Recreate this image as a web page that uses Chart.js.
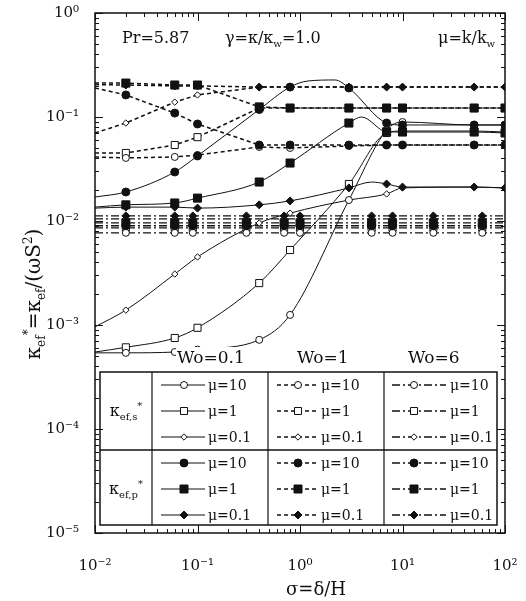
<!DOCTYPE html>
<html>
<head>
  <title>Effective diffusivity vs sigma</title>
  <script src="https://cdn.jsdelivr.net/npm/chart.js"></script>
  <style>
    body { margin: 0; background: #fff; }
    #wrap { width: 526px; height: 601px; }
  </style>
</head>
<body>
  <div id="wrap"><canvas id="chart" width="526" height="601"></canvas></div>
  <script>
    // sigma = delta/H sample positions
    const sigmaWo01 = [0.01, 0.02, 0.06, 0.1, 0.4, 0.8, 3, 7, 10, 50, 100];
    const sigmaWo01P10 = [0.01, 0.02, 0.06, 0.1, 0.4, 0.8, 1.2, 2.2, 3, 7, 10, 50, 100];
    const sigmaWo01P1 = [0.01, 0.02, 0.06, 0.1, 0.4, 0.8, 3, 4, 7, 10, 50, 100];
    const sigmaWo01P01 = [0.01, 0.02, 0.06, 0.1, 0.4, 0.8, 3, 5, 7, 10, 50, 100];
    const sigmaWo1 = [0.01, 0.02, 0.06, 0.1, 0.4, 0.8, 3, 7, 10, 50, 100];
    const sigmaWo6 = [0.01, 0.02, 0.06, 0.09, 0.3, 0.7, 1, 5, 8, 20, 60, 100];

    // Wo = 0.1 (solid)
    const kSWo01Mu10 = [0.00054, 0.00054, 0.00055, 0.00058, 0.00072, 0.00125, 0.0159, 0.075, 0.0895, 0.0838, 0.0838];
    const kSWo01Mu1 = [0.00055, 0.00061, 0.00075, 0.00094, 0.00253, 0.00526, 0.0227, 0.0702, 0.0733, 0.0733, 0.0717];
    const kSWo01Mu01 = [0.00096, 0.00139, 0.00309, 0.00451, 0.00957, 0.0119, 0.0159, 0.0182, 0.0208, 0.0212, 0.0208];
    const kPWo01Mu10 = [0.017, 0.019, 0.0296, 0.0422, 0.118, 0.194, 0.222, 0.227, 0.19, 0.0875, 0.0838, 0.0838, 0.0838];
    const kPWo01Mu1 = [0.0136, 0.0143, 0.0149, 0.0166, 0.0237, 0.0361, 0.0875, 0.1, 0.072, 0.0717, 0.0717, 0.0702];
    const kPWo01Mu01 = [0.0133, 0.0136, 0.0136, 0.0133, 0.0143, 0.0156, 0.0208, 0.0237, 0.0227, 0.0212, 0.0212, 0.0208];

    // Wo = 1 (dashed)
    const kSWo1Mu10 = [0.0413, 0.0404, 0.0413, 0.0431, 0.0515, 0.0504, 0.0526, 0.0538, 0.0538, 0.0538, 0.0538];
    const kSWo1Mu1 = [0.0451, 0.0451, 0.0538, 0.064, 0.122, 0.122, 0.122, 0.122, 0.122, 0.122, 0.122];
    const kSWo1Mu01 = [0.0702, 0.0875, 0.139, 0.163, 0.194, 0.194, 0.194, 0.194, 0.194, 0.194, 0.194];
    const kPWo1Mu10 = [0.19, 0.163, 0.109, 0.0857, 0.0538, 0.0538, 0.0538, 0.0538, 0.0538, 0.0538, 0.0538];
    const kPWo1Mu1 = [0.212, 0.212, 0.203, 0.203, 0.125, 0.122, 0.122, 0.122, 0.122, 0.122, 0.122];
    const kPWo1Mu01 = [0.205, 0.203, 0.199, 0.199, 0.194, 0.194, 0.194, 0.194, 0.194, 0.194, 0.194];

    // Wo = 6 (dash-dot)
    const kSWo6Mu10 = [0.0077, 0.0077, 0.0077, 0.0077, 0.0077, 0.0077, 0.0077, 0.0077, 0.0077, 0.0077, 0.0077, 0.0077];
    const kSWo6Mu1 = [0.0086, 0.0086, 0.0086, 0.0086, 0.0086, 0.0086, 0.0086, 0.0086, 0.0086, 0.0086, 0.0086, 0.0086];
    const kSWo6Mu01 = [0.0105, 0.0105, 0.0105, 0.0105, 0.0105, 0.0105, 0.0105, 0.0105, 0.0105, 0.0105, 0.0105, 0.0105];
    const kPWo6Mu10 = [0.009, 0.009, 0.009, 0.009, 0.009, 0.009, 0.009, 0.009, 0.009, 0.009, 0.009, 0.009];
    const kPWo6Mu1 = [0.0096, 0.0096, 0.0096, 0.0096, 0.0096, 0.0096, 0.0096, 0.0096, 0.0096, 0.0096, 0.0096, 0.0096];
    const kPWo6Mu01 = [0.0112, 0.0112, 0.0112, 0.0112, 0.0112, 0.0112, 0.0112, 0.0112, 0.0112, 0.0112, 0.0112, 0.0112];

    // ticks
    const xTickValues = [0.01, 0.1, 1, 10, 100];
    const xTickLabels = ['10⁻²', '10⁻¹', '10⁰', '10¹', '10²'];
    const yTickValues = [1e-5, 1e-4, 1e-3, 1e-2, 1e-1, 1];
    const yTickLabels = ['10⁻⁵', '10⁻⁴', '10⁻³', '10⁻²', '10⁻¹', '10⁰'];

    const woLevels = [0.1, 1, 6];
    const muLevels = [10, 1, 0.1];

    const ink = '#111';
    const SERIF = '"DejaVu Serif", "Liberation Serif", serif';
    const DASH = { 0.1: [], 1: [4, 3], 6: [8, 3, 2, 3] };
    const WIDTH = { 0.1: 1, 1: 1.5, 6: 1.3 };
    const SHAPE = { 10: 'circle', 1: 'rect', 0.1: 'rectRot' };

    function markerRadius(shape, open) {
      if (shape === 'circle') return open ? 3.5 : 4;
      if (shape === 'rect') return open ? 5 : 5.7;
      return open ? 3.2 : 4;
    }

    function series(sig, vals, wo, mu, open, bare) {
      const shape = SHAPE[mu];
      return {
        data: sig.map((s, i) => ({ x: s, y: vals[i] })),
        borderColor: ink,
        borderWidth: WIDTH[wo],
        borderDash: DASH[wo],
        pointStyle: shape,
        pointRadius: c => (c.raw && bare.includes(c.raw.x)) ? 0 : markerRadius(shape, open),
        pointBackgroundColor: open ? '#fff' : ink,
        pointBorderColor: ink,
        pointBorderWidth: 1,
        cubicInterpolationMode: wo === 0.1 ? 'monotone' : 'default',
        tension: 0,
        fill: false
      };
    }

    const datasets = [
      series(sigmaWo01P10, kPWo01Mu10, 0.1, 10, false, [0.01, 1.2, 2.2]),
      series(sigmaWo01P1, kPWo01Mu1, 0.1, 1, false, [0.01, 4]),
      series(sigmaWo01P01, kPWo01Mu01, 0.1, 0.1, false, [0.01, 5]),
      series(sigmaWo01, kSWo01Mu10, 0.1, 10, true, [0.01]),
      series(sigmaWo01, kSWo01Mu1, 0.1, 1, true, [0.01]),
      series(sigmaWo01, kSWo01Mu01, 0.1, 0.1, true, [0.01]),
      series(sigmaWo1, kPWo1Mu10, 1, 10, false, [0.01]),
      series(sigmaWo1, kPWo1Mu1, 1, 1, false, [0.01]),
      series(sigmaWo1, kPWo1Mu01, 1, 0.1, false, [0.01]),
      series(sigmaWo1, kSWo1Mu10, 1, 10, true, [0.01]),
      series(sigmaWo1, kSWo1Mu1, 1, 1, true, [0.01]),
      series(sigmaWo1, kSWo1Mu01, 1, 0.1, true, [0.01]),
      series(sigmaWo6, kPWo6Mu10, 6, 10, false, [0.01, 100]),
      series(sigmaWo6, kPWo6Mu1, 6, 1, false, [0.01, 100]),
      series(sigmaWo6, kPWo6Mu01, 6, 0.1, false, [0.01, 100]),
      series(sigmaWo6, kSWo6Mu10, 6, 10, true, [0.01, 100]),
      series(sigmaWo6, kSWo6Mu1, 6, 1, true, [0.01, 100]),
      series(sigmaWo6, kSWo6Mu01, 6, 0.1, true, [0.01, 100])
    ];

    // text with sub/superscripts: parts = [[text, 0 normal | 1 sub | 2 sup], ...]
    function rich(ctx, parts, x, y, size, align) {
      let w = 0;
      const items = parts.map(([t, m]) => {
        const fs = m ? Math.round(size * 0.62) : size;
        ctx.font = fs + 'px ' + SERIF;
        const tw = ctx.measureText(t).width;
        w += tw;
        return { t, m, fs, tw };
      });
      let cx = align === 'center' ? x - w / 2 : align === 'right' ? x - w : x;
      ctx.textAlign = 'left';
      ctx.textBaseline = 'alphabetic';
      items.forEach(it => {
        ctx.font = it.fs + 'px ' + SERIF;
        const dy = it.m === 1 ? size * 0.25 : it.m === 2 ? -size * 0.42 : 0;
        ctx.fillText(it.t, cx, y + dy);
        cx += it.tw;
      });
      return w;
    }

    function mark(ctx, shape, open, x, y) {
      ctx.beginPath();
      if (shape === 'circle') {
        ctx.arc(x, y, open ? 3.5 : 4, 0, Math.PI * 2);
      } else if (shape === 'rect') {
        const h = open ? 3.5 : 4;
        ctx.rect(x - h, y - h, 2 * h, 2 * h);
      } else {
        const r = open ? 3.2 : 4;
        ctx.moveTo(x, y - r); ctx.lineTo(x + r, y); ctx.lineTo(x, y + r); ctx.lineTo(x - r, y);
        ctx.closePath();
      }
      ctx.fillStyle = open ? '#fff' : ink;
      ctx.fill();
      ctx.setLineDash([]);
      ctx.lineWidth = 1;
      ctx.strokeStyle = ink;
      ctx.stroke();
    }

    function seg(ctx, x1, y1, x2, y2) {
      ctx.beginPath(); ctx.moveTo(x1, y1); ctx.lineTo(x2, y2); ctx.stroke();
    }

    const decor = {
      id: 'decor',
      afterDatasetsDraw(chart) {
        const { ctx, chartArea: a, scales: { x, y } } = chart;
        ctx.save();
        ctx.fillStyle = ink;
        ctx.strokeStyle = ink;

        // annotations at top of plot
        rich(ctx, [['Pr=5.87', 0]], 122, 43, 16, 'left');
        rich(ctx, [['γ=κ/κ', 0], ['w', 1], ['=1.0', 0]], 225, 43, 16, 'left');
        rich(ctx, [['μ=k/k', 0], ['w', 1]], 438, 43, 16, 'left');

        // Wo labels over the legend
        ctx.font = '17px ' + SERIF;
        const w01 = ctx.measureText('Wo=0.1').width;
        ctx.fillStyle = '#fff';
        ctx.fillRect(176, 347, w01 + 3, 19);
        ctx.fillStyle = ink;
        ctx.textAlign = 'left';
        ctx.textBaseline = 'alphabetic';
        ctx.fillText('Wo=0.1', 177, 363);
        ctx.fillText('Wo=1', 297, 363);
        ctx.fillText('Wo=6', 408, 363);

        // legend table
        const L = 100, R = 497, T = 372, B = 525, MID = 450;
        const cols = [152, 268, 384];
        ctx.fillStyle = '#fff';
        ctx.fillRect(L, T, R - L, B - T);
        ctx.setLineDash([]);
        ctx.lineWidth = 1.5;
        ctx.strokeRect(L, T, R - L, B - T);
        seg(ctx, L, MID, R, MID);
        ctx.lineWidth = 1.2;
        cols.forEach(cx => seg(ctx, cx, T, cx, B));

        ctx.fillStyle = ink;
        rich(ctx, [['κ', 0], ['ef,s', 1], ['*', 2]], 126, 416, 16, 'center');
        rich(ctx, [['κ', 0], ['ef,p', 1], ['*', 2]], 126, 494, 16, 'center');

        const rowY = [[385, 411, 437], [463, 489, 515]];
        const lineX = [[161, 205], [277, 319], [392, 446]];
        const markX = [184, 298, 414];
        const textX = [208, 321, 450];
        woLevels.forEach((wo, c) => {
          [true, false].forEach((open, r) => {
            muLevels.forEach((mu, k) => {
              const yy = rowY[r][k];
              ctx.strokeStyle = ink;
              ctx.lineWidth = WIDTH[wo];
              ctx.setLineDash(DASH[wo]);
              seg(ctx, lineX[c][0], yy, lineX[c][1], yy);
              mark(ctx, SHAPE[mu], open, markX[c], yy);
              ctx.fillStyle = ink;
              rich(ctx, [['μ=' + mu, 0]], textX[c], yy + 5, 14, 'left');
            });
          });
        });

        // frame with inward ticks on all four sides
        ctx.setLineDash([]);
        ctx.strokeStyle = ink;
        ctx.lineWidth = 1.5;
        ctx.strokeRect(a.left, a.top, a.right - a.left, a.bottom - a.top);
        ctx.lineWidth = 1;
        for (let d = -2; d <= 2; d++) {
          for (let k = 1; k <= 9; k++) {
            const v = k * Math.pow(10, d);
            if (v > 100.001) break;
            const px = Math.round(x.getPixelForValue(v)) + 0.5;
            const len = k === 1 ? 8 : 4;
            seg(ctx, px, a.bottom, px, a.bottom - len);
            seg(ctx, px, a.top, px, a.top + len);
          }
        }
        for (let d = -5; d <= 0; d++) {
          for (let k = 1; k <= 9; k++) {
            const v = k * Math.pow(10, d);
            if (v > 1.0001) break;
            const py = Math.round(y.getPixelForValue(v)) + 0.5;
            const len = k === 1 ? 8 : 4;
            seg(ctx, a.left, py, a.left + len, py);
            seg(ctx, a.right, py, a.right - len, py);
          }
        }

        // axis titles
        ctx.fillStyle = ink;
        rich(ctx, [['σ=δ/H', 0]], 316, 595, 18, 'center');
        ctx.translate(40, 294);
        ctx.rotate(-Math.PI / 2);
        rich(ctx, [['κ', 0], ['ef', 1], ['*', 2], ['=κ', 0], ['ef', 1], ['/(ωS', 0], ['2', 2], [')', 0]], 0, 0, 20, 'center');
        ctx.restore();
      }
    };

    new Chart(document.getElementById('chart'), {
      type: 'line',
      data: { datasets },
      options: {
        responsive: false,
        devicePixelRatio: 1,
        animation: false,
        events: [],
        layout: { padding: { top: 13, right: 21, left: 0, bottom: 0 } },
        plugins: { legend: { display: false }, tooltip: { enabled: false } },
        scales: {
          x: {
            type: 'logarithmic',
            min: 0.01,
            max: 100,
            grid: { display: false },
            border: { display: false },
            afterBuildTicks: s => { s.ticks = xTickValues.map(v => ({ value: v })); },
            afterFit: s => { s.height = 68; s.paddingLeft = 0; s.paddingRight = 0; },
            ticks: {
              autoSkip: false,
              maxRotation: 0,
              padding: 16,
              color: ink,
              font: { family: SERIF, size: 15 },
              callback: v => xTickLabels[xTickValues.indexOf(v)] || ''
            }
          },
          y: {
            type: 'logarithmic',
            min: 1e-5,
            max: 1,
            grid: { display: false },
            border: { display: false },
            afterBuildTicks: s => { s.ticks = yTickValues.map(v => ({ value: v })); },
            afterFit: s => { s.width = 95; s.paddingTop = 0; s.paddingBottom = 0; },
            ticks: {
              autoSkip: false,
              padding: 8,
              color: ink,
              font: { family: SERIF, size: 15 },
              callback: v => yTickLabels[yTickValues.indexOf(v)] || ''
            }
          }
        }
      },
      plugins: [decor]
    });
  </script>
</body>
</html>
